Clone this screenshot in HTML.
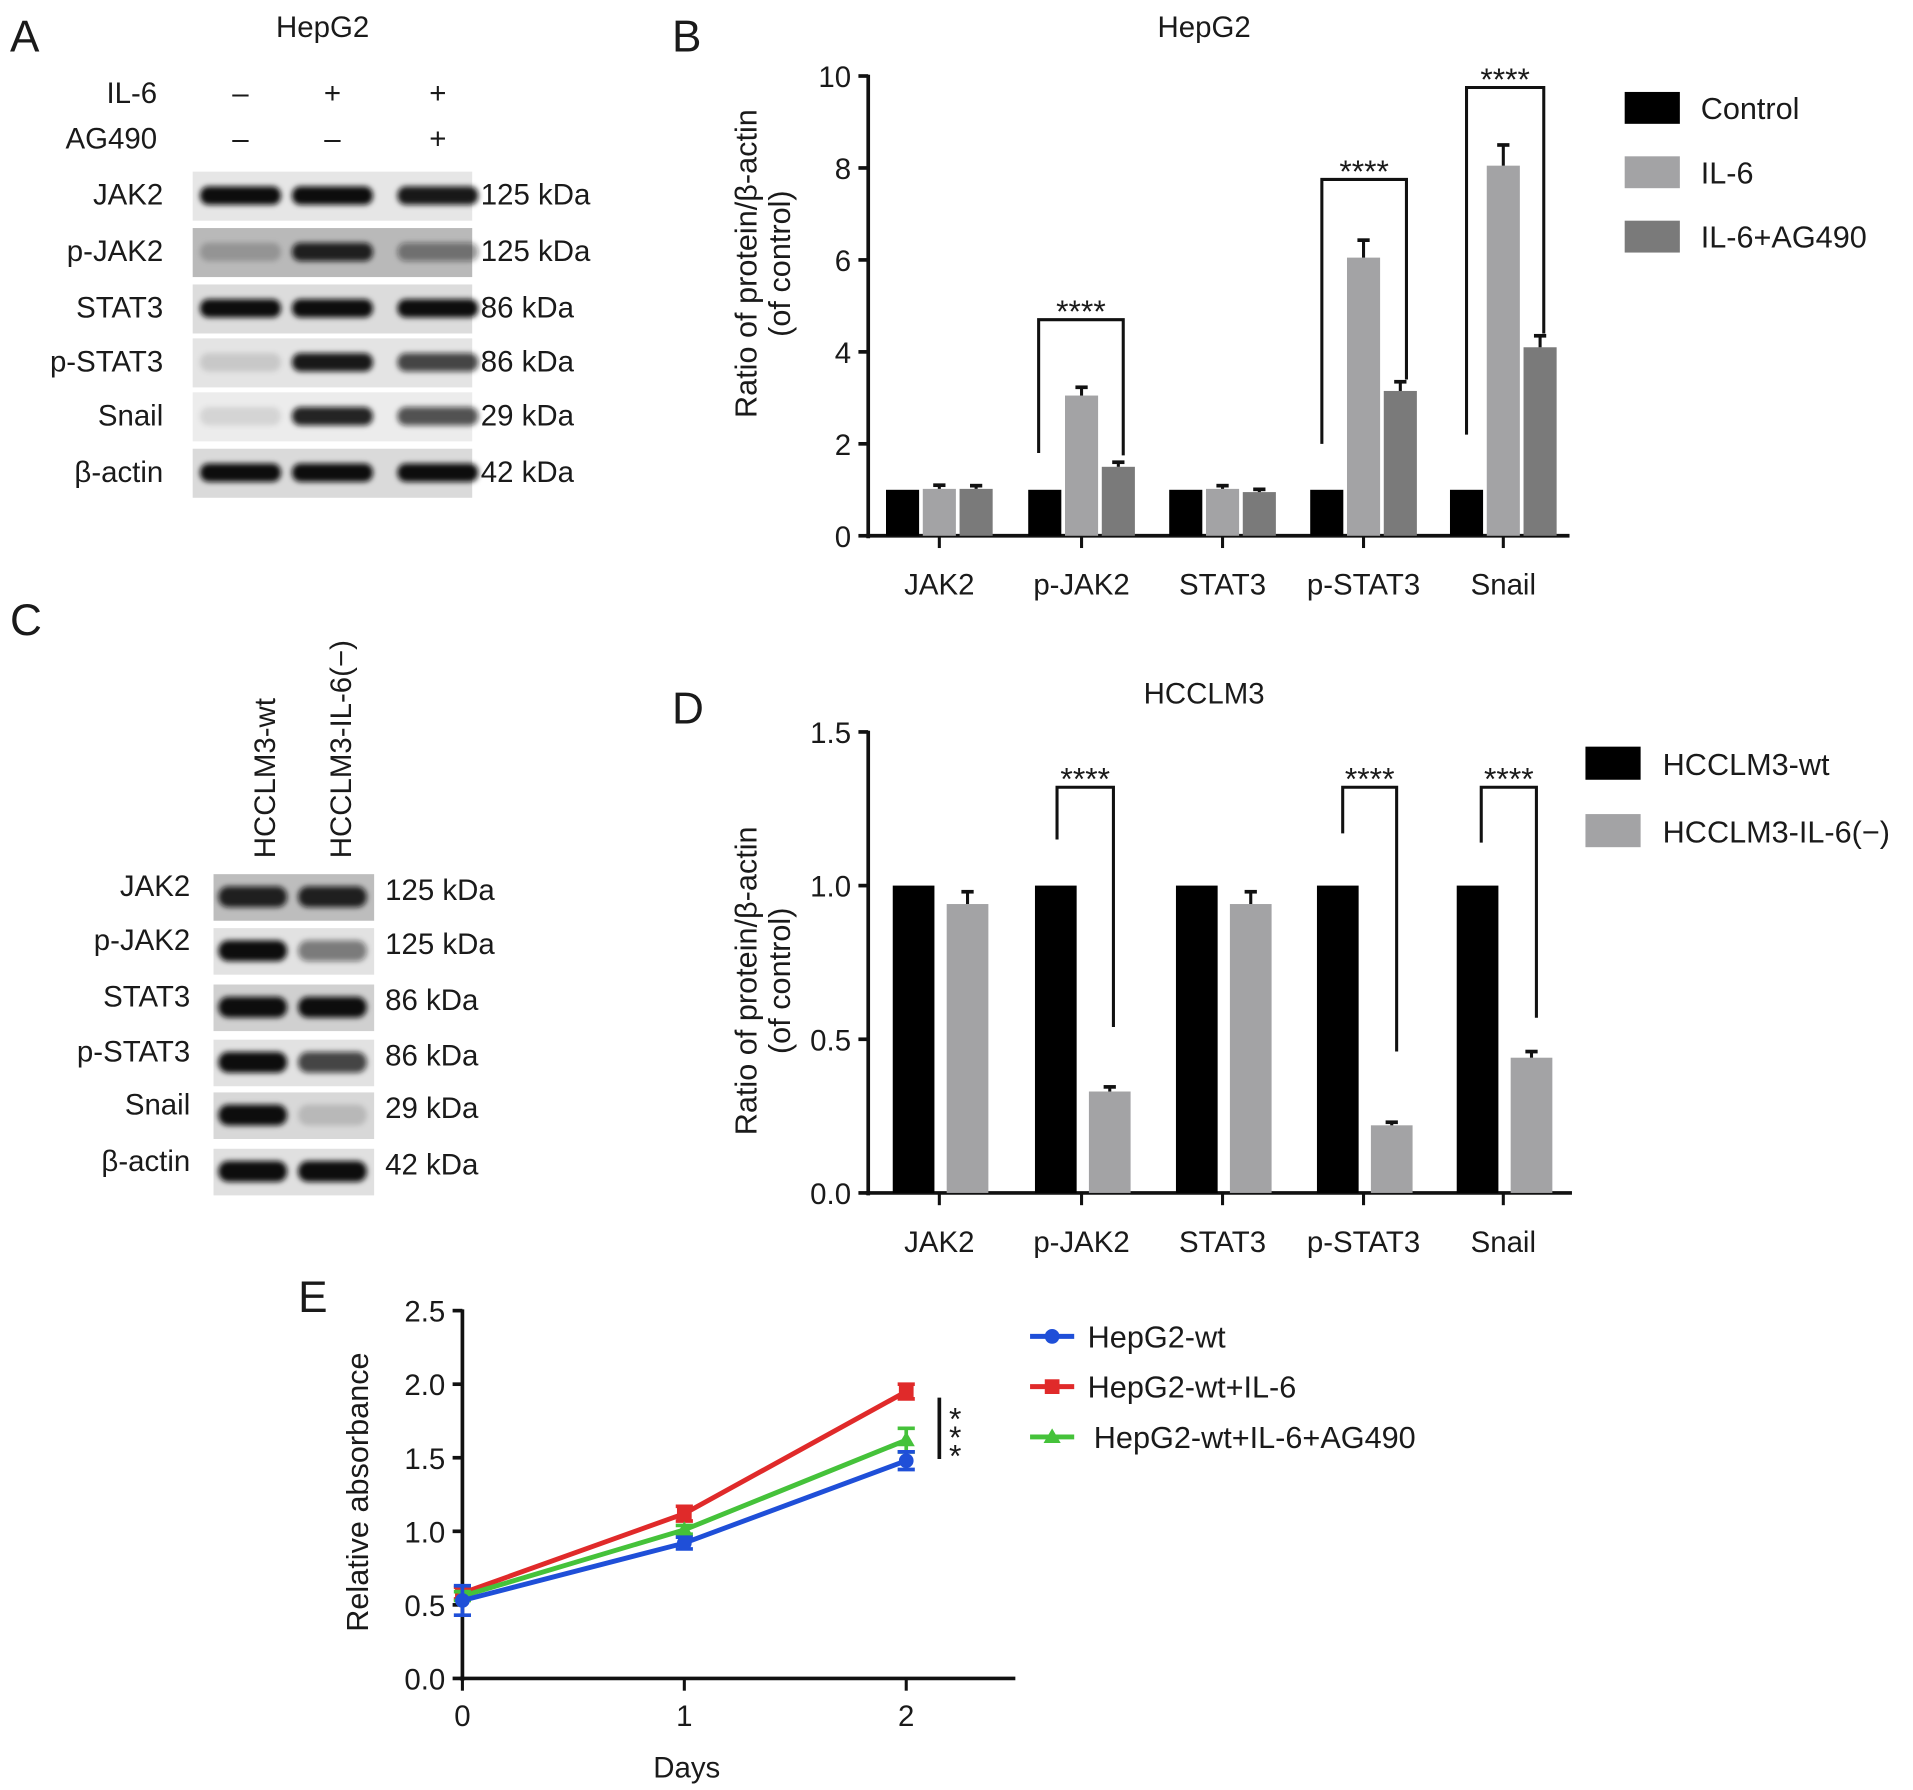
<!DOCTYPE html>
<html><head><meta charset="utf-8"><style>
html,body{margin:0;padding:0;background:#fff;}
svg{display:block;font-family:"Liberation Sans",Arial,sans-serif;}
</style></head><body>
<svg id="fig" width="1913" height="1790" viewBox="0 0 1560 1460" xmlns="http://www.w3.org/2000/svg">
<defs>
<filter id="blur" x="-20%" y="-60%" width="140%" height="220%"><feGaussianBlur stdDeviation="2.2"/></filter>
</defs>
<g id="panelA"></g>
<g id="panelB"></g>
<g id="panelC"></g>
<g id="panelD"></g>
<g id="panelE"></g>
</svg>
<script>
// ---- Panel B data ----
const bCategories = ["JAK2","p-JAK2","STAT3","p-STAT3","Snail"];
const bControl = [1,1,1,1,1];
const bIL6 = [1.02,3.05,1.02,6.05,8.05];
const bIL6Err = [0.08,0.18,0.07,0.38,0.45];
const bAG490 = [1.02,1.5,0.95,3.15,4.1];
const bAG490Err = [0.07,0.1,0.06,0.2,0.25];
const bTicks = [0,2,4,6,8,10];
const bSeriesNames = ["Control","IL-6","IL-6+AG490"];
// ---- Panel D data ----
const dCategories = ["JAK2","p-JAK2","STAT3","p-STAT3","Snail"];
const dWT = [1,1,1,1,1];
const dKO = [0.94,0.33,0.94,0.22,0.44];
const dKOErr = [0.04,0.015,0.04,0.01,0.02];
const dTicks = [0.0,0.5,1.0,1.5];
const dTickLabels = ["0.0","0.5","1.0","1.5"];
const dSeriesNames = ["HCCLM3-wt","HCCLM3-IL-6(\u2212)"];
// ---- Panel E data ----
const eDays = [0,1,2];
const eBlue = [0.53,0.92,1.48];
const eBlueErr = [0.1,0.04,0.06];
const eRed = [0.58,1.12,1.95];
const eRedErr = [0.04,0.05,0.05];
const eGreen = [0.56,1.01,1.62];
const eGreenErr = [0.03,0.03,0.08];
const eTicks = [0,0.5,1.0,1.5,2.0,2.5];
const eTickLabels = ["0.0","0.5","1.0","1.5","2.0","2.5"];
const eSeriesNames = ["HepG2-wt","HepG2-wt+IL-6","HepG2-wt+IL-6+AG490"];

const NS="http://www.w3.org/2000/svg";
function mk(parent,tag,attrs,text){const e=document.createElementNS(NS,tag);for(const k in attrs)e.setAttribute(k,attrs[k]);if(text!==undefined)e.textContent=text;parent.appendChild(e);return e;}
function txt(parent,x,y,s,size,anchor,name,extra){
  const t=mk(parent,'text',Object.assign({x:x,y:y,'font-size':size,'text-anchor':anchor||'start',fill:'#1a1a1a'},extra||{}),s);
  
  
  return t;}

// ================= Panel A =================
const A=document.getElementById('panelA');
txt(A,8,42,"A",36,'start','panel-a-label');
txt(A,263,30,"HepG2",24,'middle','panel-a-title');
txt(A,128,84,"IL-6",24,'end','il6-row-label');
txt(A,128,121,"AG490",24,'end','ag490-row-label');
const aSigns=[["\u2013","+","+"],["\u2013","\u2013","+"]];
const aLaneX=[196,271,357];
aSigns.forEach((row,ri)=>row.forEach((s,i)=>{txt(A,aLaneX[i],ri?121:84,s,24,'middle','treatment-sign');}));
const aRows=["JAK2","p-JAK2","STAT3","p-STAT3","Snail","\u03b2-actin"];
const aKda=["125 kDa","125 kDa","86 kDa","86 kDa","29 kDa","42 kDa"];
const aTop=[140,186,232,276,320,366];
const aBg=["#e6e6e6","#b9b9b9","#dcdcdc","#e4e4e4","#ececec","#dadada"];
const aInt=[[1,1,0.95],[0.2,0.9,0.45],[1,1,1],[0.12,0.95,0.75],[0.1,0.9,0.7],[1,1,1]];
aRows.forEach((r,i)=>{
  const g=mk(A,'g',{});
  
  
  mk(g,'rect',{x:157,y:aTop[i],width:228,height:40,fill:aBg[i]});
  aInt[i].forEach((v,j)=>{mk(g,'rect',{x:aLaneX[j]-33,y:aTop[i]+12,width:66,height:15,rx:7,fill:'#111','fill-opacity':v,filter:'url(#blur)'});});
  txt(A,133,aTop[i]+27,r,24,'end','blot-label');
  txt(A,392,aTop[i]+27,aKda[i],24,'start','kda-label');
});

// ================= bar chart helper =================
function barChart(P,cfg){
  const yS=v=>cfg.y0-(v-cfg.vmin)/(cfg.vmax-cfg.vmin)*(cfg.y0-cfg.y1);
  const ya=mk(P,'line',{x1:cfg.x0,y1:cfg.y1-1,x2:cfg.x0,y2:cfg.y0+2,stroke:'#111','stroke-width':3});
  
  const xa=mk(P,'line',{x1:cfg.x0-2,y1:cfg.y0,x2:cfg.xEnd,y2:cfg.y0,stroke:'#111','stroke-width':3});
  
  cfg.ticks.forEach((t,i)=>{const y=yS(t);mk(P,'line',{x1:cfg.x0-8,y1:y,x2:cfg.x0,y2:y,stroke:'#111','stroke-width':3});
    txt(P,cfg.x0-14,y+9,cfg.tickLabels[i],24,'end','y-tick-label');});
  cfg.cats.forEach((c,i)=>{const cx=cfg.cx[i];mk(P,'line',{x1:cx,y1:cfg.y0,x2:cx,y2:cfg.y0+10,stroke:'#111','stroke-width':2.5});
    txt(P,cx,cfg.y0+48,c,24,'middle','x-tick-label');});
  cfg.series.forEach((s,si)=>{
    s.vals.forEach((v,i)=>{
      const x=cfg.cx[i]+s.off-cfg.bw/2,y=yS(v);
      const r=mk(P,'rect',{x:x,y:y,width:cfg.bw,height:cfg.y0-y,fill:s.color});
      
      
      if(s.err){const ey=yS(v+s.err[i]);const mx=x+cfg.bw/2;
        mk(P,'line',{x1:mx,y1:y,x2:mx,y2:ey,stroke:'#111','stroke-width':2.5});
        mk(P,'line',{x1:mx-5,y1:ey,x2:mx+5,y2:ey,stroke:'#111','stroke-width':3});}
    });
  });
  cfg.sig.forEach(s=>{
    const i=s.i, xl=cfg.cx[i]+s.lo, xr=cfg.cx[i]+s.ro, yt=yS(s.top);
    const p=mk(P,'path',{d:`M${xl},${yS(s.lv)} V${yt} H${xr} V${yS(s.rv)}`,fill:'none',stroke:'#111','stroke-width':2.5});
    
    txt(P,(xl+xr)/2,yt+2,"****",26,'middle','significance-stars');
  });
  return yS;
}

// ================= Panel B =================
const B=document.getElementById('panelB');
txt(B,548,42,"B",36,'start','panel-b-label');
txt(B,982,30,"HepG2",24,'middle','panel-b-title');
const bcx=[766,882,997,1112,1226];
barChart(B,{x0:708,xEnd:1280,y0:437,y1:62,vmin:0,vmax:10,ticks:bTicks,tickLabels:bTicks.map(String),cats:bCategories,cx:bcx,bw:27,
 series:[{key:'control',vals:bControl,color:'#000',off:-30},{key:'il6',vals:bIL6,err:bIL6Err,color:'#a3a3a5',off:0},{key:'ag490',vals:bAG490,err:bAG490Err,color:'#7a7a7a',off:30}],
 sig:[{i:1,lo:-35,ro:34,top:4.7,lv:1.8,rv:1.75},{i:3,lo:-34,ro:35,top:7.75,lv:2.0,rv:3.4},{i:4,lo:-30,ro:33,top:9.75,lv:2.2,rv:4.4}]});
txt(B,0,0,"Ratio of protein/\u03b2-actin",25,'middle','y-axis-title',{transform:'translate(617,215) rotate(-90)'});
txt(B,0,0,"(of control)",25,'middle','y-axis-title-line2',{transform:'translate(644,215) rotate(-90)'});
const bCols=['#000','#a3a3a5','#7a7a7a'];
bSeriesNames.forEach((n,i)=>{const y=75+i*52.5;
  const r=mk(B,'rect',{x:1325,y:y,width:45,height:26,fill:bCols[i]});
  
  txt(B,1387,y+22,n,25,'start','legend-entry');});

// ================= Panel C =================
const C=document.getElementById('panelC');
txt(C,8,518,"C",36,'start','panel-c-label');
txt(C,0,0,"HCCLM3-wt",24,'start','lane-label-wt',{transform:'translate(224,700) rotate(-90)'});
txt(C,0,0,"HCCLM3-IL-6(\u2212)",24,'start','lane-label-ko',{transform:'translate(286,700) rotate(-90)'});
const cRows=["JAK2","p-JAK2","STAT3","p-STAT3","Snail","\u03b2-actin"];
const cKda=["125 kDa","125 kDa","86 kDa","86 kDa","29 kDa","42 kDa"];
const cTop=[713,757,803,848,891,937];
const cBg=["#bdbdbd","#e2e2e2","#d0d0d0","#e2e2e2","#d8d8d8","#e0e0e0"];
const cInt=[[0.9,0.9],[1,0.5],[1,1],[1,0.75],[1,0.15],[1,1]];
const cLaneX=[206,271];
cRows.forEach((r,i)=>{
  const g=mk(C,'g',{});
  
  
  mk(g,'rect',{x:174,y:cTop[i],width:131,height:38,fill:cBg[i]});
  cInt[i].forEach((v,j)=>{mk(g,'rect',{x:cLaneX[j]-28,y:cTop[i]+10,width:56,height:17,rx:8,fill:'#111','fill-opacity':v,filter:'url(#blur)'});});
  txt(C,155,cTop[i]+18,r,24,'end','blot-label');
  txt(C,314,cTop[i]+21,cKda[i],24,'start','kda-label');
});

// ================= Panel D =================
const D=document.getElementById('panelD');
txt(D,548,590,"D",36,'start','panel-d-label');
txt(D,982,574,"HCCLM3",24,'middle','panel-d-title');
barChart(D,{x0:708,xEnd:1282,y0:973,y1:597,vmin:0,vmax:1.5,ticks:dTicks,tickLabels:dTickLabels,cats:dCategories,cx:bcx,bw:34,
 series:[{key:'wt',vals:dWT,color:'#000',off:-21},{key:'ko',vals:dKO,err:dKOErr,color:'#a3a3a5',off:23}],
 sig:[{i:1,lo:-20,ro:26,top:1.32,lv:1.15,rv:0.54},{i:3,lo:-17,ro:27,top:1.32,lv:1.17,rv:0.46},{i:4,lo:-18,ro:27,top:1.32,lv:1.14,rv:0.57}]});
txt(D,0,0,"Ratio of protein/\u03b2-actin",25,'middle','y-axis-title',{transform:'translate(617,800) rotate(-90)'});
txt(D,0,0,"(of control)",25,'middle','y-axis-title-line2',{transform:'translate(644,800) rotate(-90)'});
const dCols=['#000','#a3a3a5'];
dSeriesNames.forEach((n,i)=>{const y=609+i*55;
  const r=mk(D,'rect',{x:1293,y:y,width:45,height:27,fill:dCols[i]});
  
  txt(D,1356,y+23,n,25,'start','legend-entry');});

// ================= Panel E =================
const E=document.getElementById('panelE');
txt(E,243,1070,"E",36,'start','panel-e-label');
const ex=d=>377+d*181, ey=v=>1369-v*120;
const eya=mk(E,'line',{x1:377,y1:1068,x2:377,y2:1371,stroke:'#111','stroke-width':3});

const exa=mk(E,'line',{x1:375,y1:1369,x2:828,y2:1369,stroke:'#111','stroke-width':3});

eTicks.forEach((t,i)=>{mk(E,'line',{x1:369,y1:ey(t),x2:377,y2:ey(t),stroke:'#111','stroke-width':3});
  txt(E,363,ey(t)+9,eTickLabels[i],24,'end','y-tick-label');});
eDays.forEach(d=>{mk(E,'line',{x1:ex(d),y1:1369,x2:ex(d),y2:1379,stroke:'#111','stroke-width':2.5});
  txt(E,ex(d),1408,String(d),24,'middle','x-tick-label');});
txt(E,560,1450,"Days",24,'middle','x-axis-title');
txt(E,0,0,"Relative absorbance",25,'middle','y-axis-title',{transform:'translate(300,1217) rotate(-90)'});
const eSeries=[{key:'wt',vals:eBlue,err:eBlueErr,c:'#1f4fd8',m:'circle'},{key:'wt-il6',vals:eRed,err:eRedErr,c:'#e02a2a',m:'square'},{key:'wt-il6-ag490',vals:eGreen,err:eGreenErr,c:'#45c23a',m:'tri'}];
function marker(g,m,x,y,c){
  if(m==='circle')mk(g,'circle',{cx:x,cy:y,r:6,fill:c});
  else if(m==='square')mk(g,'rect',{x:x-6,y:y-6,width:12,height:12,fill:c});
  else mk(g,'path',{d:`M${x},${y-7} L${x+7},${y+5} L${x-7},${y+5} Z`,fill:c});
}
[1,2,0].forEach(si=>{const s=eSeries[si];
  const g=mk(E,'g',{});
  
  
  const pts=eDays.map((d,i)=>ex(d)+','+ey(s.vals[i])).join(' ');
  mk(g,'polyline',{points:pts,fill:'none',stroke:s.c,'stroke-width':4});
  eDays.forEach((d,i)=>{const x=ex(d),y=ey(s.vals[i]),e=s.err[i];
    mk(g,'line',{x1:x,y1:ey(s.vals[i]+e),x2:x,y2:ey(s.vals[i]-e),stroke:s.c,'stroke-width':3});
    mk(g,'line',{x1:x-7,y1:ey(s.vals[i]+e),x2:x+7,y2:ey(s.vals[i]+e),stroke:s.c,'stroke-width':3});
    mk(g,'line',{x1:x-7,y1:ey(s.vals[i]-e),x2:x+7,y2:ey(s.vals[i]-e),stroke:s.c,'stroke-width':3});
    marker(g,s.m,x,y,s.c);});
});
const sigl=mk(E,'line',{x1:766,y1:1140,x2:766,y2:1190,stroke:'#111','stroke-width':3});

[1157,1172,1187].forEach(y=>txt(E,779,y+9,"*",26,'middle','significance-star'));
eSeriesNames.forEach((n,i)=>{const y=1090+i*41;const s=eSeries[i];
  const g=mk(E,'g',{});
  
  
  mk(g,'line',{x1:840,y1:y,x2:876,y2:y,stroke:s.c,'stroke-width':4});
  marker(g,s.m,858,y,s.c);
  txt(g,i===2?892:887,y+9,n,25,'start','legend-label');});
</script>
</body></html>
